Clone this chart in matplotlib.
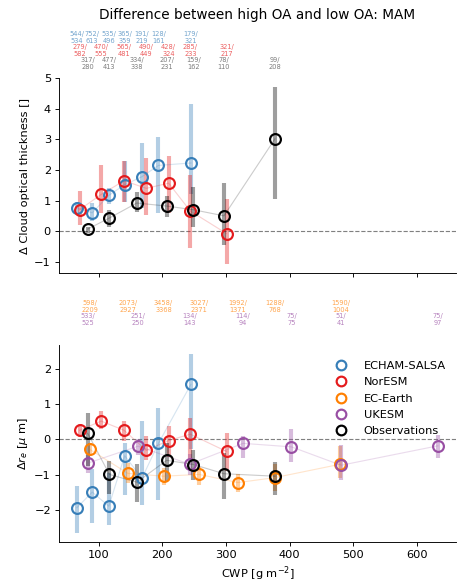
"""
Cloud response to organic aerosol loading (spring, MAM).

Differences between the high-OA and low-OA composites, binned by cloud
water path, for the models and the satellite observations.
"""

import matplotlib
matplotlib.use("Agg")
import matplotlib.pyplot as plt
from matplotlib.lines import Line2D
import matplotlib.transforms as mtransforms


# Bin centres (CWP, g m-2) per dataset
CWP_ECHAM = [66, 90, 116, 141, 168, 194, 245]
CWP_NORESM = [70, 104, 140, 175, 210, 244, 301]
CWP_ECEARTH = [86, 146, 202, 258, 319, 377, 480]
CWP_UKESM = [83, 162, 243, 327, 403, 481, 633]
CWP_OBS = [83, 117, 160, 207, 249, 297, 377]

# Delta cloud optical thickness: median, lower and upper bounds
COT_ECHAM = [0.76, 0.60, 1.17, 1.52, 1.78, 2.15, 2.23]
COT_ECHAM_LO = [0.55, 0.32, 0.88, 0.95, 0.76, 0.60, 1.20]
COT_ECHAM_HI = [0.95, 0.93, 1.42, 2.30, 2.87, 3.07, 4.17]
COT_NORESM = [0.70, 1.20, 1.65, 1.40, 1.57, 0.66, -0.08]
COT_NORESM_LO = [0.20, 0.60, 0.95, 0.54, 0.60, -0.55, -1.08]
COT_NORESM_HI = [1.30, 2.15, 2.30, 2.38, 2.45, 1.84, 1.05]
COT_OBS = [0.07, 0.43, 0.92, 0.82, 0.70, 0.50, 3.02]
COT_OBS_LO = [-0.05, 0.15, 0.62, 0.45, 0.15, -0.45, 1.05]
COT_OBS_HI = [0.15, 0.70, 1.28, 1.15, 1.45, 1.58, 4.72]

# Delta effective radius (um): median, lower and upper bounds
RE_ECHAM = [-1.93, -1.49, -1.89, -0.46, -1.10, -0.11, 1.56]
RE_ECHAM_LO = [-2.65, -2.37, -2.42, -1.57, -1.85, -1.71, -0.28]
RE_ECHAM_HI = [-1.33, -0.85, -0.95, -0.09, 0.52, 0.88, 2.42]
RE_NORESM = [0.26, 0.52, 0.26, -0.31, -0.03, 0.15, -0.34]
RE_NORESM_LO = [0.08, 0.30, -0.05, -0.57, -0.50, -0.55, -0.90]
RE_NORESM_HI = [0.43, 0.80, 0.52, 0.10, 0.37, 0.60, 0.17]
RE_ECEARTH = [-0.28, -0.96, -1.04, -0.99, -1.22, -1.08, -0.70]
RE_ECEARTH_LO = [-0.45, -1.23, -1.28, -1.28, -1.50, -1.45, -1.10]
RE_ECEARTH_HI = [-0.10, -0.66, -0.81, -0.77, -0.97, -0.70, -0.18]
RE_UKESM = [-0.67, -0.19, -0.70, -0.11, -0.21, -0.73, -0.18]
RE_UKESM_LO = [-0.96, -0.43, -1.00, -0.52, -0.65, -1.14, -0.52]
RE_UKESM_HI = [-0.44, 0.00, -0.40, 0.09, 0.30, -0.17, 0.14]
RE_OBS = [0.17, -0.99, -1.21, -0.59, -0.71, -0.97, -1.04]
RE_OBS_LO = [-0.76, -1.55, -1.77, -1.18, -1.14, -1.68, -1.57]
RE_OBS_HI = [0.74, -0.62, -0.70, -0.10, -0.31, -0.38, -0.63]

# Number of samples per bin (high OA / low OA)
N_ECHAM = [(544, 534), (752, 613), (535, 496), (365, 359), (191, 219), (128, 161), (179, 321)]
N_NORESM = [(279, 582), (470, 555), (565, 481), (490, 449), (428, 324), (285, 233), (321, 217)]
N_OBS = [(317, 280), (477, 413), (334, 338), (207, 231), (159, 162), (78, 110), (99, 208)]
N_ECEARTH = [(598, 2209), (2073, 2927), (3458, 3368), (3027, 2371), (1992, 1371), (1288, 768), (1590, 1004)]
N_UKESM = [(533, 525), (251, 250), (134, 143), (114, 94), (75, 75), (51, 41), (75, 97)]

COLORS = {
    "ECHAM-SALSA": "#377eb8",
    "NorESM": "#e41a1c",
    "EC-Earth": "#ff7f00",
    "UKESM": "#984ea3",
    "Observations": "black",
}


def draw_series(ax, name, cwp, val, lo, hi):
    """Range bars, a faint connecting line and open circles for one dataset."""
    c = COLORS[name]
    ax.vlines(cwp, lo, hi, color=c, alpha=0.38, lw=3.6, zorder=2)
    ax.plot(cwp, val, color=c, alpha=0.2, lw=1.0, zorder=3)
    ax.plot(cwp, val, "o", ms=9.5, mfc="none", mec=c, mew=1.9, zorder=4)


def draw_counts(ax, name, cwp, counts, yfrac):
    """Sample counts written above the axes at each bin."""
    trans = mtransforms.blended_transform_factory(ax.transData, ax.transAxes)
    c = COLORS[name]
    if name == "Observations":
        c = "#444444"
    for x, (n_hi, n_lo) in zip(cwp, counts):
        ax.text(x, yfrac, f"{n_hi}/\n{n_lo}", transform=trans, ha="center",
                va="center", fontsize=5.8, color=c, alpha=0.7,
                linespacing=1.2, clip_on=False)


def main():
    fig = plt.figure(figsize=(464 / 82, 588 / 82), dpi=82)
    ax1 = fig.add_axes([0.127, 0.5357, 0.8556, 0.3316])
    ax2 = fig.add_axes([0.127, 0.0782, 0.8556, 0.335], sharex=ax1)

    # Optical thickness
    draw_series(ax1, "ECHAM-SALSA", CWP_ECHAM, COT_ECHAM, COT_ECHAM_LO, COT_ECHAM_HI)
    draw_series(ax1, "NorESM", CWP_NORESM, COT_NORESM, COT_NORESM_LO, COT_NORESM_HI)
    draw_series(ax1, "Observations", CWP_OBS, COT_OBS, COT_OBS_LO, COT_OBS_HI)
    draw_counts(ax1, "ECHAM-SALSA", CWP_ECHAM, N_ECHAM, 1.208)
    draw_counts(ax1, "NorESM", CWP_NORESM, N_NORESM, 1.141)
    draw_counts(ax1, "Observations", CWP_OBS, N_OBS, 1.077)

    # Effective radius
    draw_series(ax2, "ECHAM-SALSA", CWP_ECHAM, RE_ECHAM, RE_ECHAM_LO, RE_ECHAM_HI)
    draw_series(ax2, "NorESM", CWP_NORESM, RE_NORESM, RE_NORESM_LO, RE_NORESM_HI)
    draw_series(ax2, "EC-Earth", CWP_ECEARTH, RE_ECEARTH, RE_ECEARTH_LO, RE_ECEARTH_HI)
    draw_series(ax2, "UKESM", CWP_UKESM, RE_UKESM, RE_UKESM_LO, RE_UKESM_HI)
    draw_series(ax2, "Observations", CWP_OBS, RE_OBS, RE_OBS_LO, RE_OBS_HI)
    draw_counts(ax2, "EC-Earth", CWP_ECEARTH, N_ECEARTH, 1.198)
    draw_counts(ax2, "UKESM", CWP_UKESM, N_UKESM, 1.129)

    for ax in (ax1, ax2):
        ax.axhline(0, color="gray", ls="--", lw=1.0, zorder=1)
        ax.spines["top"].set_visible(False)
        ax.spines["right"].set_visible(False)
    ax1.tick_params(labelbottom=False)

    ax1.set_ylabel("Δ Cloud optical thickness []")
    ax2.set_ylabel(r"$\Delta r_e$ [$\mu$ m]")
    ax2.set_xlabel(r"CWP [g m$^{-2}$]")

    handles = [Line2D([], [], ls="none", marker="o", ms=8.5, mfc="none",
                      mec=c, mew=1.9) for c in COLORS.values()]
    ax2.legend(handles, list(COLORS.keys()), loc="upper right", frameon=False,
               labelspacing=0.55, handletextpad=1.0,
               bbox_to_anchor=(1.0, 0.97))

    fig.text(0.554, 0.9745, "Difference between high OA and low OA: MAM",
             ha="center", va="center", fontsize=12)

    fig.savefig("out.png", dpi=82)
    plt.close(fig)


if __name__ == "__main__":
    main()
